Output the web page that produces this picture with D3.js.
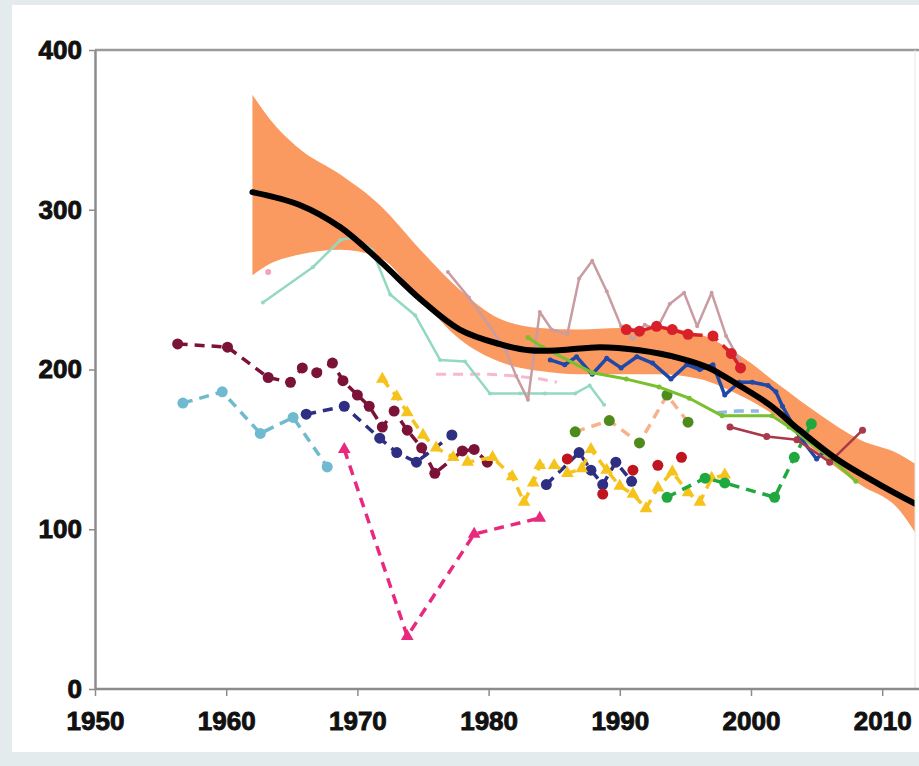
<!DOCTYPE html>
<html>
<head>
<meta charset="utf-8">
<script src="https://cdn.jsdelivr.net/npm/d3@7"></script>
<style>
  html, body { margin: 0; padding: 0; background: #e3ebed; }
  svg { display: block; }
  .tick-label { font-family: "Liberation Sans", Arial, sans-serif; font-weight: bold; font-size: 26px; fill: #111; stroke: #111; stroke-width: 0.9px; }
</style>
</head>
<body>
<svg id="chart" width="919" height="766"></svg>
<script>
// ---- data (year, value) ----
const xTicks = [1950, 1960, 1970, 1980, 1990, 2000, 2010];
const yTicks = [0, 100, 200, 300, 400];

// fitted trend and its confidence band
const trend = [[1962, 311], [1965.6, 303], [1968.7, 289], [1971.7, 268], [1974.8, 244], [1977.8, 225],
  [1980.8, 216], [1983.1, 212], [1985.4, 212], [1988.5, 214], [1991.5, 212], [1994.6, 207],
  [1996.8, 201], [1999.1, 190], [2001.4, 178], [2003.7, 162], [2006.7, 143], [2009.8, 128], [2012.5, 116]];
const bandUpper = [372, 357, 338, 322, 303, 275, 250, 232, 226, 225, 226, 226, 222, 209, 190, 172, 156, 147, 141];
const bandLower = [259, 266, 272, 275, 270, 244, 219, 205, 199, 197, 197, 197, 194, 184, 169, 147, 128, 112, 98];
const bandYears = [1962, 1963.3, 1965.6, 1968.7, 1971.7, 1974.8, 1977.8, 1980.8, 1983.9, 1986.9, 1990, 1993,
  1996.1, 1999.1, 2002.2, 2005.2, 2008.3, 2011.3, 2012.5];

const teal = [[1962.8, 242], [1966.6, 264], [1968.7, 281], [1969.8, 283], [1971.1, 275], [1972.5, 247],
  [1974.4, 234], [1976.3, 206], [1978.2, 205], [1980.1, 185], [1982.4, 185], [1984.3, 185],
  [1986.6, 185], [1987.7, 190], [1988.8, 178]];
const mauve = [[1976.9, 261], [1978.5, 245], [1980, 228], [1981.3, 212], [1982.1, 196], [1983, 181],
  [1983.9, 236], [1984.8, 225], [1986, 222], [1986.9, 257], [1987.9, 268], [1989, 249], [1990.1, 227],
  [1991, 219], [1991.9, 228], [1992.8, 225], [1993.8, 241], [1994.9, 248], [1995.9, 227], [1997, 248],
  [1998.1, 221], [1999.1, 206]];
const paleRose = [[1976, 197], [1978, 197], [1980, 197], [1982, 196], [1984, 194], [1985.2, 192]];
const paleRoseLone = [[1963.2, 261]];
const maroon = [[1956.3, 216], [1960.1, 214], [1963.2, 195], [1964.9, 192], [1965.8, 201], [1966.9, 198],
  [1968.1, 204], [1968.9, 193], [1970, 184], [1970.9, 177], [1971.9, 164], [1972.8, 174], [1973.8, 162],
  [1974.9, 151], [1975.9, 135], [1978, 149], [1978.9, 150], [1979.9, 142]];
const skyBlue = [[1956.7, 179], [1959.7, 186], [1962.6, 160], [1965.1, 170], [1967.7, 139]];
const navy = [[1966.1, 172], [1969, 177], [1971.7, 157], [1973, 148], [1974.5, 142], [1977.2, 159]];
const navyLate = [[1984.4, 128], [1986.9, 148], [1987.8, 137], [1988.7, 128], [1989.7, 142], [1990.9, 130]];
const magenta = [[1969, 150], [1973.8, 33], [1978.9, 97], [1983.9, 107]];
const gold = [[1971.9, 194], [1973, 183], [1973.8, 173], [1975, 159], [1976, 151], [1977.3, 145],
  [1978.4, 142], [1980.3, 145], [1981.8, 133], [1982.7, 117], [1983.4, 129], [1983.9, 140], [1985, 140],
  [1986, 135], [1987.1, 138], [1987.8, 150], [1989, 137], [1990, 127], [1991, 122], [1992, 113],
  [1992.9, 126], [1994, 136], [1995.2, 123], [1996.1, 117], [1997, 132], [1998, 134]];
const crimsonDots = [[1986, 144], [1988.7, 122], [1991, 137], [1992.9, 140], [1994.7, 145]];
const redDashed = [[1990.5, 225], [1991.5, 224], [1992.8, 227], [1994, 225], [1995.2, 222], [1997.1, 221],
  [1998.5, 210], [1999.2, 201]];
const royalBlue = [[1984.7, 206], [1985.8, 203], [1986.7, 208], [1987.9, 197], [1989, 207], [1990.1, 201],
  [1991.3, 208], [1992.5, 204], [1993.9, 194], [1995.1, 203], [1996.1, 200], [1997.1, 203], [1998, 184],
  [1999.1, 192], [2000.1, 192], [2001.3, 190], [2001.9, 186], [2002.4, 177], [2003.7, 158], [2005, 144],
  [2005.5, 148]];
const lime = [[1983, 220], [1984.1, 214], [1987.9, 198], [1990.5, 194], [1993, 189], [1995.3, 182],
  [1997.8, 171], [2001.6, 171], [2002.9, 164], [2006, 145], [2008, 130]];
const olive = [[1986.6, 161], [1989.2, 168], [1991.5, 154], [1993.6, 184], [1995.2, 167]];
const paleBlue = [[1997.4, 173], [1999, 174], [2000.6, 174]];
const brick = [[1998.4, 164], [2001.2, 158], [2003.5, 156], [2006, 142], [2008.5, 162]];
const forest = [[1993.6, 120], [1996.5, 132], [1998, 129], [2001.8, 120], [2003.3, 145], [2004.6, 166]];

// ---- layout ----
const svg = d3.select('#chart');
const plotLeft = 95, plotRight = 915, plotTop = 50, plotBottom = 689;

const x = d3.scaleLinear().domain([1950, 2012.5]).range([plotLeft, plotRight]);
const y = d3.scaleLinear().domain([0, 400]).range([plotBottom, plotTop]);

// white panel
svg.append('rect')
  .attr('x', 12).attr('y', 5).attr('width', 919).attr('height', 747)
  .attr('fill', '#fff');

svg.append('clipPath').attr('id', 'plot-clip')
  .append('rect')
  .attr('x', plotLeft).attr('y', plotTop)
  .attr('width', plotRight - plotLeft).attr('height', plotBottom - plotTop);

const plot = svg.append('g').attr('clip-path', 'url(#plot-clip)');

// confidence band
const band = bandYears.map((yr, i) => ({ yr, hi: bandUpper[i], lo: bandLower[i] }));
plot.append('path')
  .datum(band)
  .attr('fill', '#fa9a60')
  .attr('d', d3.area()
    .x((d) => x(d.yr))
    .y0((d) => y(d.lo))
    .y1((d) => y(d.hi))
    .curve(d3.curveMonotoneX));

// generic series drawer
const line = d3.line().x((d) => x(d[0])).y((d) => y(d[1]));

function drawSeries(data, opts) {
  const g = plot.append('g');
  if (opts.line !== false) {
    g.append('path')
      .datum(data)
      .attr('fill', 'none')
      .attr('stroke', opts.lineColor || opts.color)
      .attr('stroke-width', opts.width || 3.5)
      .attr('stroke-dasharray', opts.dash || null)
      .attr('stroke-linejoin', 'round')
      .attr('d', line);
  }
  if (opts.marker === 'circle') {
    g.selectAll('circle')
      .data(data)
      .join('circle')
      .attr('cx', (d) => x(d[0]))
      .attr('cy', (d) => y(d[1]))
      .attr('r', opts.r || 5.5)
      .attr('fill', opts.markerColor || opts.color);
  } else if (opts.marker === 'triangle') {
    g.selectAll('path.m')
      .data(data)
      .join('path')
      .attr('class', 'm')
      .attr('transform', (d) => `translate(${x(d[0])},${y(d[1])})`)
      .attr('d', d3.symbol(d3.symbolTriangle, opts.size || 70))
      .attr('fill', opts.color);
  }
}

const dash = '10,7';

drawSeries(paleRose, { color: '#f6b9cf', dash, width: 3 });
drawSeries(paleRoseLone, { color: '#f2a3b8', line: false, marker: 'circle', r: 3 });
drawSeries(teal, { color: '#93d9c2', width: 2.5, marker: 'circle', r: 2 });
drawSeries(mauve, { color: '#c99ca2', width: 2.5, marker: 'circle', r: 2 });
drawSeries(skyBlue, { color: '#6fbad0', dash, marker: 'circle' });
drawSeries(maroon, { color: '#7b1238', dash, marker: 'circle' });
drawSeries(navy, { color: '#2e2f82', dash, marker: 'circle' });
drawSeries(navyLate, { color: '#2e2f82', dash, marker: 'circle' });
drawSeries(magenta, { color: '#e72a7d', dash, marker: 'triangle' });
drawSeries(gold, { color: '#f6c21c', dash, marker: 'triangle' });
drawSeries(olive, { lineColor: '#f7b28c', markerColor: '#4f8a1c', color: '#4f8a1c', dash, marker: 'circle' });
drawSeries(crimsonDots, { color: '#c0141e', line: false, marker: 'circle' });
drawSeries(redDashed, { color: '#d8202b', dash, marker: 'circle' });
drawSeries(paleBlue, { color: '#8fb8e2', dash });
drawSeries(forest, { color: '#1fa83d', dash, marker: 'circle' });
drawSeries(royalBlue, { color: '#1f48a8', width: 3.5, marker: 'circle', r: 2.5 });
drawSeries(lime, { color: '#78c02f', width: 3, marker: 'circle', r: 2.5 });
drawSeries(brick, { color: '#a8384a', width: 2.5, marker: 'circle', r: 3.5 });

// trend curve
const smooth = d3.line().x((d) => x(d[0])).y((d) => y(d[1])).curve(d3.curveCatmullRom);
plot.append('path')
  .datum(trend)
  .attr('fill', 'none')
  .attr('stroke', '#000')
  .attr('stroke-width', 6)
  .attr('stroke-linecap', 'round')
  .attr('d', smooth);

// frame
svg.append('line').attr('x1', plotLeft).attr('x2', 919).attr('y1', plotTop).attr('y2', plotTop)
  .attr('stroke', '#9a9a9a').attr('stroke-width', 2.5);
svg.append('line').attr('x1', plotRight).attr('x2', plotRight).attr('y1', plotTop).attr('y2', plotBottom)
  .attr('stroke', '#e6e6e6').attr('stroke-width', 1);

// axes
const xAxis = svg.append('g')
  .attr('transform', `translate(0,${plotBottom})`)
  .call(d3.axisBottom(x).tickValues(xTicks).tickFormat(d3.format('d')).tickSize(7).tickSizeOuter(0));
const yAxis = svg.append('g')
  .attr('transform', `translate(${plotLeft},0)`)
  .call(d3.axisLeft(y).tickValues(yTicks).tickSize(6).tickSizeOuter(0));

[xAxis, yAxis].forEach((ax) => {
  ax.attr('font-size', null).attr('font-family', null);
  ax.select('.domain').attr('stroke', '#8c8c8c').attr('stroke-width', 2.5);
  ax.selectAll('.tick line').attr('stroke', '#8c8c8c').attr('stroke-width', 1.5);
  ax.selectAll('.tick text').attr('class', 'tick-label');
});
xAxis.select('.domain').attr('d', `M${plotLeft},0H919`);
xAxis.selectAll('.tick text').attr('y', 23).attr('dy', '0.71em');
yAxis.selectAll('.tick text').attr('x', -13);
</script>
</body>
</html>
